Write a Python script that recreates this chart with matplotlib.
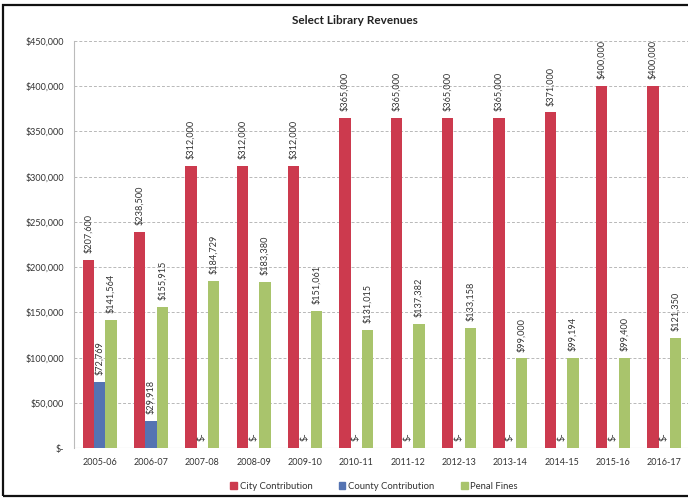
import matplotlib
matplotlib.use("Agg")
import matplotlib.pyplot as plt
from matplotlib.patches import Rectangle
from matplotlib.ticker import FuncFormatter
import numpy as np

years = ["2005-06", "2006-07", "2007-08", "2008-09", "2009-10", "2010-11",
         "2011-12", "2012-13", "2013-14", "2014-15", "2015-16", "2016-17"]
city = [207600, 238500, 312000, 312000, 312000, 365000,
        365000, 365000, 365000, 371000, 400000, 400000]
county = [72769, 29918, 0, 0, 0, 0, 0, 0, 0, 0, 0, 0]
fines = [141564, 155915, 184729, 183380, 151061, 131015,
         137382, 133158, 99000, 99194, 99400, 121350]
series_names = ["City Contribution", "County Contribution", "Penal Fines"]
colors = ["#CC3A4E", "#5473B2", "#A9C46C"]

plt.rcParams["font.family"] = ["Lato", "DejaVu Sans"]

fig = plt.figure(figsize=(6.88, 4.98), dpi=100)
W, H = 688, 498
ax = fig.add_axes([74 / W, 50 / H, 616 / W, 407 / H])

x = np.arange(len(years))
bw = 0.22
offsets = [-bw, 0.0, bw]
for vals, off, col in zip([city, county, fines], offsets, colors):
    ax.bar(x + off, vals, width=bw, color=col, edgecolor="none", zorder=3)
    for xi, v in zip(x, vals):
        lab = "$-" if v == 0 else f"${v:,.0f}"
        ax.annotate(lab, (xi + off, v), xytext=(0, 5), textcoords="offset points",
                    rotation=90, ha="center", va="bottom", fontsize=6.6,
                    color="#333333", zorder=4)

ax.set_xlim(-0.5, len(years) - 0.5)
ax.set_ylim(0, 450000)
ax.set_yticks(np.arange(0, 450001, 50000))
ax.yaxis.set_major_formatter(FuncFormatter(lambda v, p: "$-" if v == 0 else f"${v:,.0f}"))
ax.set_xticks(x)
ax.set_xticklabels(years)
ax.tick_params(axis="both", length=0, labelsize=6.5, colors="#333333", pad=7)
ax.grid(axis="y", color="#B8B8B8", linestyle=(0, (3, 2)), linewidth=0.7, zorder=0)
for s in ["top", "right", "bottom"]:
    ax.spines[s].set_visible(False)
ax.spines["left"].set_color("#BBBBBB")
ax.spines["left"].set_linewidth(0.8)
ax.axhline(0, color="#BBBBBB", linewidth=0.8, zorder=2)

fig.text(355 / W, 1 - 21 / H, "Select Library Revenues", ha="center", va="center",
         fontsize=8.5, fontweight="bold", color="#222222")

handles = [Rectangle((0, 0), 1, 1, color=c) for c in colors]
fig.legend(handles, series_names, loc="center", bbox_to_anchor=(374 / W, 1 - 486 / H),
           ncol=3, frameon=False, fontsize=6.8, handlelength=0.7, handleheight=0.7,
           handletextpad=0.3, columnspacing=2.8, labelcolor="#333333")

fig.add_artist(Rectangle((3 / W, 2 / H), 1.0, 1 - 7 / H, transform=fig.transFigure,
                         fill=False, edgecolor="#111111", linewidth=1.6))

fig.savefig("out.png", dpi=100)
